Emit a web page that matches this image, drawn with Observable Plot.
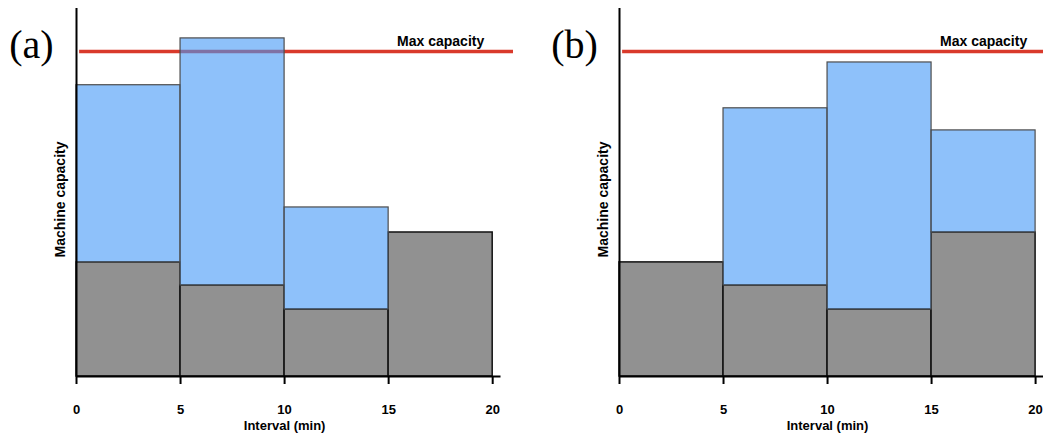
<!DOCTYPE html>
<html>
<head>
<meta charset="utf-8">
<script src="https://cdn.jsdelivr.net/npm/d3@7"></script>
<script src="https://cdn.jsdelivr.net/npm/@observablehq/plot@0.6"></script>
<style>
  html, body { margin: 0; padding: 0; background: #fff; overflow: hidden; }
  #wrap { position: relative; width: 1043px; height: 437px; }
  .panel { position: absolute; top: 0; }
</style>
</head>
<body>
<div id="wrap">
  <div class="panel" id="pa" style="left:0px"></div>
  <div class="panel" id="pb" style="left:521px"></div>
</div>
<script>
// ---- data ----
const xTicks = [0, 5, 10, 15, 20];
const intervalStart = [0, 5, 10, 15];
const intervalEnd = [5, 10, 15, 20];
const baseLoad = [35.1, 28.0, 20.6, 44.3];      // grey bars
const extraLoadA = [54.5, 76.0, 31.4, 0];        // blue, scenario (a)
const extraLoadB = [0, 54.5, 76.0, 31.4];        // blue, scenario (b)
const maxCapacity = 100;
const yTop = 113.2;
const panelLabels = ["(a)", "(b)"];
const xLabel = "Interval (min)";
const yLabel = "Machine capacity";
const maxLabel = "Max capacity";
const maxLabelX = 17.5;

const FONT = "'Liberation Sans', Arial, Helvetica, sans-serif";

function panel({label, extra, width, marginLeft, marginRight, xMax, axisEnd}) {
  const grey = intervalStart.map((s, i) => ({x1: s, x2: intervalEnd[i], y1: 0, y2: baseLoad[i]}));
  const blue = intervalStart
    .map((s, i) => ({x1: s, x2: intervalEnd[i], y1: baseLoad[i], y2: baseLoad[i] + extra[i]}))
    .filter(d => d.y2 > d.y1);
  return Plot.plot({
    width, height: 437,
    marginLeft, marginRight, marginTop: 8, marginBottom: 61,
    style: {fontFamily: FONT, fontSize: "13px", fontWeight: "bold", color: "#000", background: "transparent"},
    x: {domain: [0, xMax]},
    y: {domain: [0, yTop], axis: null},
    marks: [
      Plot.rect(grey, {x1: "x1", x2: "x2", y1: "y1", y2: "y2", fill: "#919191", stroke: "#111", strokeWidth: 1.5}),
      Plot.ruleY([maxCapacity], {x1: 0.15, x2: xMax, stroke: "#d93a2b", strokeWidth: 3.5}),
      Plot.rect(blue, {x1: "x1", x2: "x2", y1: "y1", y2: "y2", fill: "rgb(67,152,247)", fillOpacity: 0.6, stroke: "#4d4d4d", strokeWidth: 1.2}),
      Plot.text([maxLabel], {x: maxLabelX, y: maxCapacity, dy: -10, text: d => d, fontSize: 14, fontWeight: "bold", fill: "#000"}),
      Plot.ruleX([0], {y1: 0, y2: yTop, stroke: "#000", strokeWidth: 2}),
      Plot.ruleY([0], {x1: 0, x2: axisEnd, stroke: "#000", strokeWidth: 2}),
      Plot.axisX({ticks: xTicks, tickSize: 8, tickPadding: 20, strokeWidth: 2, label: null, tickFormat: d => d, fontSize: 13, fontWeight: "bold"}),
      Plot.text([xLabel], {frameAnchor: "bottom", x: 10, dy: 49, lineAnchor: "middle", text: d => d, fontSize: 13, fontWeight: "bold", fill: "#000"}),
      Plot.text([yLabel], {frameAnchor: "left", dx: -16, dy: 7, rotate: -90, textAnchor: "middle", lineAnchor: "middle", text: d => d, fontSize: 14, fontWeight: "bold", fill: "#000"}),
      Plot.text([label], {frameAnchor: "top-left", dx: -45, dy: 37, textAnchor: "middle", lineAnchor: "middle", text: d => d, fontFamily: "'Liberation Serif', 'Times New Roman', serif", fontSize: 40, fontWeight: "normal", fill: "#000"})
    ]
  });
}

document.getElementById("pa").appendChild(panel({label: panelLabels[0], extra: extraLoadA, width: 521, marginLeft: 76, marginRight: 8, xMax: 21, axisEnd: 20.4}));
document.getElementById("pb").appendChild(panel({label: panelLabels[1], extra: extraLoadB, width: 522, marginLeft: 98, marginRight: 0, xMax: 20.38, axisEnd: 20.38}));
</script>
</body>
</html>
